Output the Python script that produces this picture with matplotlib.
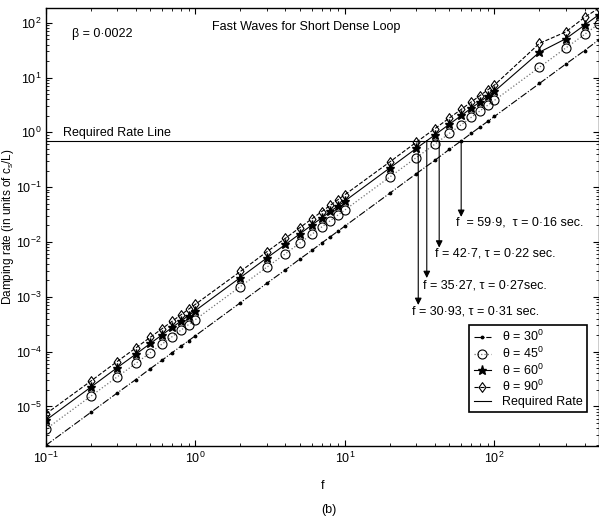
import numpy as np
import matplotlib
matplotlib.use("Agg")
import matplotlib.pyplot as plt
from matplotlib.ticker import LogLocator, NullFormatter

plt.rcParams['font.family'] = ['Liberation Sans', 'DejaVu Sans']
plt.rcParams['mathtext.default'] = 'regular'
plt.rcParams['axes.unicode_minus'] = False
plt.rcParams['font.size'] = 9

# frequencies
f = [0.1, 0.2, 0.3, 0.4, 0.5, 0.6, 0.7, 0.8, 0.9,
     1, 2, 3, 4, 5, 6, 7, 8, 9,
     10, 20, 30, 40, 50, 60, 70, 80, 90,
     100, 200, 300, 400, 500]

# damping rates
theta30 = [1.95e-6, 7.8e-6, 1.76e-5, 3.1e-5, 4.9e-5, 7.0e-5, 9.6e-5, 1.25e-4, 1.58e-4,
           1.95e-4, 7.8e-4, 1.76e-3, 3.1e-3, 4.9e-3, 7.0e-3, 9.6e-3, 1.25e-2, 1.58e-2,
           1.95e-2, 7.8e-2, 0.176, 0.31, 0.49, 0.70, 0.96, 1.25, 1.58,
           1.95, 7.8, 17.6, 31, 49]
theta45 = [3.84e-6, 1.54e-5, 3.46e-5, 6.1e-5, 9.6e-5, 1.38e-4, 1.88e-4, 2.46e-4, 3.11e-4,
           3.84e-4, 1.54e-3, 3.46e-3, 6.1e-3, 9.6e-3, 1.38e-2, 1.88e-2, 2.46e-2, 3.11e-2,
           3.84e-2, 0.154, 0.346, 0.61, 0.96, 1.38, 1.88, 2.46, 3.11,
           3.84, 15.4, 34.6, 61, 96]
theta60 = [5.6e-6, 2.25e-5, 5.1e-5, 9.0e-5, 1.41e-4, 2.03e-4, 2.76e-4, 3.6e-4, 4.56e-4,
           5.6e-4, 2.25e-3, 5.1e-3, 9.0e-3, 1.41e-2, 2.03e-2, 2.76e-2, 3.6e-2, 4.56e-2,
           5.6e-2, 0.225, 0.51, 0.90, 1.41, 2.03, 2.76, 3.6, 4.56,
           5.6, 29, 51, 90, 141]
theta90 = [7.3e-6, 2.9e-5, 6.6e-5, 1.17e-4, 1.83e-4, 2.63e-4, 3.59e-4, 4.68e-4, 5.93e-4,
           7.3e-4, 2.9e-3, 6.6e-3, 1.17e-2, 1.83e-2, 2.63e-2, 3.59e-2, 4.68e-2, 5.93e-2,
           7.3e-2, 0.29, 0.66, 1.17, 1.83, 2.63, 3.59, 4.68, 5.93,
           7.3, 42, 68, 125, 185]

required_rate = 0.7

# crossings with the required rate line
f_cross = [59.9, 42.7, 35.27, 30.93]
arrow_tip = [0.0287, 0.0079, 0.0022, 7.1e-4]
label_xy = [(55.1, 0.0223), (39.9, 0.00607), (33.4, 0.00158), (28.2, 5.4e-4)]
labels = ["f  = 59\u00b79,  \u03c4 = 0\u00b716 sec.",
          "f = 42\u00b77, \u03c4 = 0\u00b722 sec.",
          "f = 35\u00b727, \u03c4 = 0\u00b727sec.",
          "f = 30\u00b793, \u03c4 = 0\u00b731 sec."]

diamond = [(-0.72, 0), (0, 1), (0.72, 0), (0, -1), (-0.72, 0)]

fig = plt.figure(figsize=(5.99, 5.26), dpi=100)
ax = fig.add_axes([45.8 / 599, 1 - 446 / 526, 1 - 45.8 / 599, (446 - 8.3) / 526])

ax.plot(f, theta30, linestyle='-.', color='k', lw=0.8, marker='.', ms=3.5, label='\u03b8 = 30$^0$')
ax.plot(f, theta45, linestyle=':', color='0.45', lw=0.9, marker='o', ms=6.5,
        mfc='none', mec='k', mew=0.8, label='\u03b8 = 45$^0$')
ax.plot(f, theta60, linestyle='-', color='k', lw=0.8, marker='*', ms=6.5, label='\u03b8 = 60$^0$')
ax.plot(f, theta90, linestyle='--', color='k', lw=0.8, marker=diamond, ms=7,
        mfc='none', mec='k', mew=0.8, label='\u03b8 = 90$^0$')
ax.axhline(required_rate, color='k', lw=0.8, label='Required Rate')

for fc, tip, (tx, ty), lab in zip(f_cross, arrow_tip, label_xy, labels):
    ax.annotate('', xy=(fc, tip), xytext=(fc, required_rate),
                arrowprops=dict(arrowstyle='-|>', color='k', lw=0.8, mutation_scale=10,
                                shrinkA=0, shrinkB=0))
    ax.text(tx, ty, lab, ha='left', va='center', fontsize=9)

ax.set_xscale('log')
ax.set_yscale('log')
ax.set_xlim(0.1, 500)
ax.set_ylim(1.9e-6, 183)

ax.xaxis.set_major_locator(LogLocator(base=10, numticks=10))
ax.xaxis.set_minor_locator(LogLocator(base=10, subs=np.arange(2, 10), numticks=10))
ax.xaxis.set_minor_formatter(NullFormatter())
ax.yaxis.set_major_locator(LogLocator(base=10, numticks=12))
ax.yaxis.set_minor_locator(LogLocator(base=10, subs=np.arange(2, 10), numticks=12))
ax.yaxis.set_minor_formatter(NullFormatter())
ax.tick_params(which='both', direction='in', top=True, right=True, labelsize=9)
ax.tick_params(which='major', length=4, width=0.8)
ax.tick_params(axis='y', which='major', pad=3)
ax.tick_params(which='minor', length=2, width=0.6)
for s in ax.spines.values():
    s.set_linewidth(1.0)

ax.text(0.0474, 0.941, '\u03b2 = 0\u00b70022', transform=ax.transAxes, ha='left', va='center', fontsize=9)
ax.text(0.3004, 0.957, 'Fast Waves for Short Dense Loop', transform=ax.transAxes,
        ha='left', va='center', fontsize=9)
ax.text(0.13, 0.76, 'Required Rate Line', ha='left', va='bottom', fontsize=9)

ax.set_xlabel('f', fontsize=9, labelpad=10)
fig.text(8 / 599, 1 - 227 / 526, 'Damping rate (in units of c$_s$/L)', rotation=90,
         ha='center', va='center', fontsize=8.5)

leg = ax.legend(loc='lower right', bbox_to_anchor=(0.979, 0.077), borderaxespad=0, fontsize=9,
                handlelength=1.4, labelspacing=0.12, borderpad=0.35,
                handletextpad=0.9, fancybox=False, edgecolor='k', framealpha=1)
leg.get_frame().set_linewidth(1.2)

fig.text(329 / 599, 1 - 510 / 526, '(b)', ha='center', va='center', fontsize=9)

fig.savefig('out.png', dpi=100)
